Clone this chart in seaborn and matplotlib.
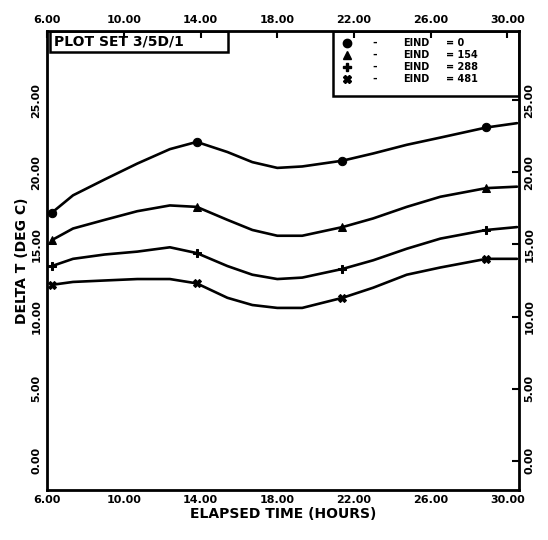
import numpy as np
import pandas as pd
import seaborn as sns
import matplotlib.pyplot as plt
from matplotlib.patches import Rectangle

# elapsed time (hours) at which the curves were read
hours = [6.25, 7.35, 9.0, 10.7, 12.4, 13.8, 15.4, 16.7, 18.0, 19.3,
         21.4, 23.0, 24.75, 26.5, 28.9, 30.5]

# delta T (deg C) for each set
dt_0 = [17.2, 18.4, 19.5, 20.6, 21.6, 22.1, 21.4, 20.7, 20.3, 20.4,
        20.8, 21.3, 21.9, 22.4, 23.1, 23.4]
dt_154 = [15.3, 16.1, 16.7, 17.3, 17.7, 17.6, 16.7, 16.0, 15.6, 15.6,
          16.2, 16.8, 17.6, 18.3, 18.9, 19.0]
dt_288 = [13.5, 14.0, 14.3, 14.5, 14.8, 14.4, 13.5, 12.9, 12.6, 12.7,
          13.3, 13.9, 14.7, 15.4, 16.0, 16.2]
dt_481 = [12.2, 12.4, 12.5, 12.6, 12.6, 12.3, 11.3, 10.8, 10.6, 10.6,
          11.3, 12.0, 12.9, 13.4, 14.0, 14.0]

set_names = ['0', '154', '288', '481']
set_markers = ['o', '^', 'P', 'X']
marker_idx = [0, 5, 10, 14]

x_ticks = [6, 10, 14, 18, 22, 26, 30]
y_ticks = [0, 5, 10, 15, 20, 25]

sns.set_style('white')
plt.rcParams['font.family'] = ['DejaVu Sans']
plt.rcParams['font.weight'] = 'bold'
plt.rcParams['text.color'] = 'black'
plt.rcParams['xtick.color'] = 'black'
plt.rcParams['ytick.color'] = 'black'
plt.rcParams['axes.labelcolor'] = 'black'

fig = plt.figure(figsize=(5.48, 5.40), dpi=100)
ax = fig.add_axes([0.086, 0.093, 0.861, 0.85])

for vals, mk in zip([dt_0, dt_154, dt_288, dt_481], set_markers):
    sns.lineplot(x=hours, y=vals, color='black', lw=1.9, marker=mk,
                 markevery=marker_idx, ms=6, mfc='black', mec='black',
                 ax=ax)

ax.set_xlim(6, 30.6)
ax.set_ylim(-2, 29.8)
ax.set_xticks(x_ticks)
ax.set_yticks(y_ticks)
ax.set_xticklabels(['%.2f' % v for v in x_ticks], fontsize=8, fontweight='bold')
ax.set_yticklabels(['%.2f' % v for v in y_ticks], fontsize=8, fontweight='bold',
                   va='center')
ax.tick_params(axis='both', direction='in', length=5, width=1.5,
               top=True, right=True, labeltop=True, labelright=True, pad=4)
ax.tick_params(axis='y', labelrotation=90)

for s in ax.spines.values():
    s.set_linewidth(2)
    s.set_color('black')

ax.set_xlabel('ELAPSED TIME (HOURS)', fontsize=10, fontweight='bold', labelpad=1)
ax.set_ylabel('DELTA T (DEG C)', fontsize=10, fontweight='bold', labelpad=2)

# title box
ax.add_patch(Rectangle((0.006, 0.954), 0.377, 0.046, transform=ax.transAxes,
                       fill=False, lw=1.8, ec='black'))
ax.text(0.015, 0.977, 'PLOT SET 3/5D/1', transform=ax.transAxes,
        fontsize=10, fontweight='bold', va='center', ha='left')

# legend box
ax.add_patch(Rectangle((0.606, 0.858), 0.394, 0.142, transform=ax.transAxes,
                       fill=False, lw=1.8, ec='black'))
row_y = [0.974, 0.948, 0.922, 0.896]
for yy, mk, nm in zip(row_y, set_markers, set_names):
    ax.plot([0.636], [yy], marker=mk, color='black', ms=6,
            transform=ax.transAxes, clip_on=False)
    ax.text(0.69, yy, '-', transform=ax.transAxes, fontsize=8,
            fontweight='bold', va='center')
    ax.text(0.755, yy, 'EIND', transform=ax.transAxes, fontsize=7,
            fontweight='bold', va='center')
    ax.text(0.845, yy, '= ' + nm, transform=ax.transAxes, fontsize=7,
            fontweight='bold', va='center')

plt.savefig('out.png', dpi=100)
